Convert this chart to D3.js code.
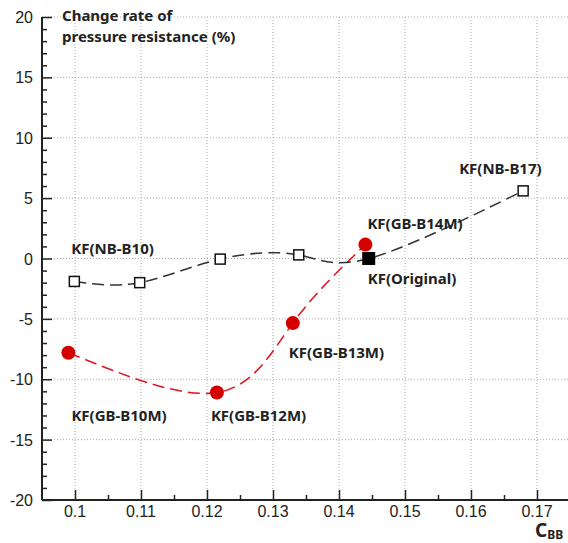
<!DOCTYPE html>
<html>
<head>
<meta charset="utf-8">
<script src="https://cdn.jsdelivr.net/npm/d3@7"></script>
<style>
  body { margin: 0; background: #fff; }
  .tick-label { font-family: "Liberation Sans", Arial, sans-serif; font-size: 16px; fill: #222; }
  .point-label { font-family: "Noto Sans", sans-serif; font-weight: bold; font-size: 15px; fill: #222; }
</style>
</head>
<body>
<div id="chart"></div>
<script>
// values
let nbCbb = [0.0999, 0.1098, 0.1220, 0.1339, 0.1445, 0.1679]
let nbRate = [-1.9, -2.0, -0.05, 0.3, 0.0, 5.6]
let gbCbb = [0.0990, 0.1215, 0.1330, 0.1440]
let gbRate = [-7.8, -11.1, -5.35, 1.15]
let original = {cbb: 0.1445, rate: 0.0}

let xTicks = [0.1, 0.11, 0.12, 0.13, 0.14, 0.15, 0.16, 0.17]
let yTicks = [-20, -15, -10, -5, 0, 5, 10, 15, 20]

// point labels: text, anchor point, offset
let labels = [
    {text: "KF(NB-B10)", cbb: 0.0999, rate: -1.9, dx: -3, dy: -27},
    {text: "KF(GB-B10M)", cbb: 0.0990, rate: -7.8, dx: 3, dy: 68},
    {text: "KF(GB-B12M)", cbb: 0.1215, rate: -11.1, dx: -6, dy: 28},
    {text: "KF(GB-B13M)", cbb: 0.1330, rate: -5.35, dx: -4, dy: 35},
    {text: "KF(GB-B14M)", cbb: 0.1440, rate: 1.15, dx: 2, dy: -16},
    {text: "KF(Original)", cbb: 0.1445, rate: 0.0, dx: -1, dy: 25},
    {text: "KF(NB-B17)", cbb: 0.1679, rate: 5.6, dx: -64, dy: -17}
]

let width = 568, height = 543

let svg = d3.select("#chart")
    .append("svg")
    .attr("width", width)
    .attr("height", height)

let x = d3.scaleLinear()
    .domain([0.095, 0.175])
    .range([42, 570])

let y = d3.scaleLinear()
    .domain([-20, 20])
    .range([500, 17])

// dotted grid
svg.append("g")
    .selectAll("line")
    .data(xTicks)
    .enter()
    .append("line")
    .attr("x1", d => x(d)).attr("x2", d => x(d))
    .attr("y1", y(20)).attr("y2", y(-20))
    .style("stroke", "#aaa")
    .style("stroke-dasharray", "1,2")

svg.append("g")
    .selectAll("line")
    .data(yTicks.filter(d => d > -20))
    .enter()
    .append("line")
    .attr("x1", x(0.095)).attr("x2", width)
    .attr("y1", d => y(d)).attr("y2", d => y(d))
    .style("stroke", "#aaa")
    .style("stroke-dasharray", "1,2")

// axes: ticks point inward
let xAxis = svg.append("g")
    .attr("transform", "translate(0," + y(-20) + ")")
    .call(d3.axisTop(x).tickValues(d3.range(0.1, 0.1751, 0.005)).tickSize(5).tickFormat(""))
xAxis.selectAll(".tick line")
    .attr("y2", (d, i) => i % 2 == 0 ? -10 : -5)
    .style("stroke", "#222").style("stroke-width", 1.5)
xAxis.select(".domain").attr("d", "M" + x(0.095) + ",0H" + width).style("stroke", "#222").style("stroke-width", 2)

let yAxis = svg.append("g")
    .attr("transform", "translate(" + x(0.095) + ",0)")
    .call(d3.axisRight(y).tickValues(d3.range(-20, 20.01, 1)).tickSize(5).tickFormat(""))
yAxis.selectAll(".tick line")
    .attr("x2", d => Math.round(d) % 5 == 0 ? 10 : 5)
    .style("stroke", "#222").style("stroke-width", 1.5)
yAxis.select(".domain").attr("d", "M0," + y(20) + "V" + y(-20)).style("stroke", "#222").style("stroke-width", 2)

// tick labels
svg.selectAll(".x-label")
    .data(xTicks)
    .enter()
    .append("text")
    .attr("class", "tick-label")
    .attr("x", d => x(d))
    .attr("y", y(-20) + 17)
    .attr("text-anchor", "middle")
    .text(d => d)

svg.selectAll(".y-label")
    .data(yTicks)
    .enter()
    .append("text")
    .attr("class", "tick-label")
    .attr("x", 33)
    .attr("y", d => y(d) + 6)
    .attr("text-anchor", "end")
    .text(d => d)

// axis titles
let yTitle = svg.append("text")
    .attr("class", "point-label")
    .attr("x", 62)
    .attr("y", 21)
yTitle.append("tspan").text("Change rate of")
yTitle.append("tspan").attr("x", 62).attr("dy", 21).text("pressure resistance (%)")

let xTitle = svg.append("text")
    .attr("x", 535)
    .attr("y", 537)
    .style("font-family", "Noto Sans, sans-serif")
    .style("font-weight", "bold")
    .style("fill", "#222")
xTitle.append("tspan").style("font-size", "19px").text("C")
xTitle.append("tspan").style("font-size", "12px").attr("dy", 2).text("BB")

// curves
let line = d3.line()
    .x(d => x(d[0]))
    .y(d => y(d[1]))
    .curve(d3.curveNatural)

svg.append("path")
    .datum(d3.zip(gbCbb, gbRate))
    .attr("d", line)
    .style("fill", "none")
    .style("stroke", "#e0141e")
    .style("stroke-width", 1.5)
    .style("stroke-dasharray", "12,6")

svg.append("path")
    .datum(d3.zip(nbCbb, nbRate))
    .attr("d", line)
    .style("fill", "none")
    .style("stroke", "#333")
    .style("stroke-width", 1.5)
    .style("stroke-dasharray", "12,6")

// markers
svg.selectAll(".gb-dot")
    .data(d3.zip(gbCbb, gbRate))
    .enter()
    .append("circle")
    .attr("cx", d => x(d[0]))
    .attr("cy", d => y(d[1]))
    .attr("r", 7)
    .style("fill", "#d40000")

let sq = 10
svg.selectAll(".nb-sq")
    .data(d3.zip(nbCbb, nbRate).filter(d => d[0] != original.cbb))
    .enter()
    .append("rect")
    .attr("x", d => x(d[0]) - sq / 2)
    .attr("y", d => y(d[1]) - sq / 2)
    .attr("width", sq)
    .attr("height", sq)
    .style("fill", "#fff")
    .style("stroke", "#111")
    .style("stroke-width", 1.5)

svg.append("rect")
    .attr("x", x(original.cbb) - 6.5)
    .attr("y", y(original.rate) - 6.5)
    .attr("width", 13)
    .attr("height", 13)
    .style("fill", "#000")

// point labels
svg.selectAll(".pt-label")
    .data(labels)
    .enter()
    .append("text")
    .attr("class", "point-label")
    .attr("x", d => x(d.cbb) + d.dx)
    .attr("y", d => y(d.rate) + d.dy)
    .text(d => d.text)
</script>
</body>
</html>
